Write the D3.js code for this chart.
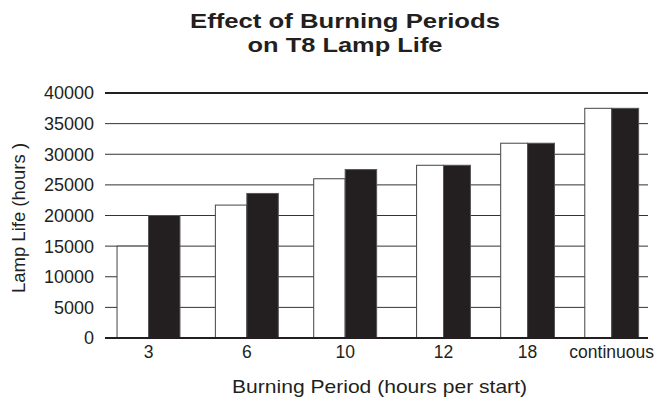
<!DOCTYPE html>
<html>
<head>
<meta charset="utf-8">
<script src="https://cdn.jsdelivr.net/npm/d3@7"></script>
<style>
  body { margin: 0; background: #fff; }
  text { font-family: "Liberation Sans", Arial, sans-serif; fill: #231f20; }
</style>
</head>
<body>
<svg id="chart" width="655" height="400"></svg>
<script>
// data
const periods = ["3", "6", "10", "12", "18", "continuous"];
const lifeWhite = [15000, 21700, 26000, 28200, 31800, 37500];
const lifeBlack = [20000, 23600, 27500, 28200, 31800, 37500];
const yTicks = [0, 5000, 10000, 15000, 20000, 25000, 30000, 35000, 40000];

const svg = d3.select("#chart");
const plotLeft = 105, plotRight = 648, plotTop = 93, plotBottom = 338;

const y = d3.scaleLinear().domain([0, 40000]).range([plotBottom, plotTop]);

// groups sit closer together towards the right in the original picture
const x = d3.scaleLinear()
  .domain([0, 3, 5])
  .range([148.5, 443.5, 611.7]);
const barW = i => x(i + 0.32) - x(i);

// title
const title = svg.append("text")
  .attr("text-anchor", "middle")
  .attr("font-weight", "bold")
  .attr("font-size", 21);
title.append("tspan").attr("x", 345).attr("y", 28)
  .attr("textLength", 310).attr("lengthAdjust", "spacingAndGlyphs")
  .text("Effect of Burning Periods");
title.append("tspan").attr("x", 345).attr("y", 51.5)
  .attr("textLength", 195).attr("lengthAdjust", "spacingAndGlyphs")
  .text("on T8 Lamp Life");

// grid lines
svg.append("g").selectAll("line")
  .data(yTicks)
  .enter()
  .append("line")
  .attr("x1", plotLeft)
  .attr("x2", plotRight)
  .attr("y1", d => y(d))
  .attr("y2", d => y(d))
  .attr("stroke", d => (d == 0 || d == 40000) ? "#231f20" : "#333")
  .attr("stroke-width", d => (d == 0 || d == 40000) ? 2.2 : 1);

// y tick labels
svg.append("g").selectAll("text")
  .data(yTicks)
  .enter()
  .append("text")
  .attr("x", 94)
  .attr("y", d => y(d))
  .attr("dy", "0.36em")
  .attr("text-anchor", "end")
  .attr("font-size", 18)
  .text(d => d);

// bars
const groups = svg.append("g").selectAll("g")
  .data(periods)
  .enter()
  .append("g");

groups.append("rect")
  .attr("x", (d, i) => x(i) - barW(i))
  .attr("y", (d, i) => y(lifeWhite[i]))
  .attr("width", (d, i) => barW(i))
  .attr("height", (d, i) => y(0) - y(lifeWhite[i]))
  .attr("fill", "#fff")
  .attr("stroke", "#444")
  .attr("stroke-width", 1);

groups.append("rect")
  .attr("x", (d, i) => x(i))
  .attr("y", (d, i) => y(lifeBlack[i]))
  .attr("width", (d, i) => barW(i))
  .attr("height", (d, i) => y(0) - y(lifeBlack[i]))
  .attr("fill", "#231f20")
  .attr("stroke", "#555")
  .attr("stroke-width", 1);

// redraw the zero line over the bar bottoms
svg.append("line")
  .attr("x1", plotLeft).attr("x2", plotRight)
  .attr("y1", y(0)).attr("y2", y(0))
  .attr("stroke", "#231f20")
  .attr("stroke-width", 2.2);

// x tick labels
groups.append("text")
  .attr("x", (d, i) => x(i))
  .attr("y", 358)
  .attr("text-anchor", "middle")
  .attr("font-size", 17.5)
  .text(d => d);

// axis titles
svg.append("text")
  .attr("x", 379.5)
  .attr("y", 393)
  .attr("text-anchor", "middle")
  .attr("font-size", 18.5)
  .attr("textLength", 295)
  .attr("lengthAdjust", "spacingAndGlyphs")
  .text("Burning Period (hours per start)");

svg.append("text")
  .attr("transform", "translate(25,218) rotate(-90)")
  .attr("text-anchor", "middle")
  .attr("font-size", 18.5)
  .text("Lamp Life (hours )");
</script>
</body>
</html>
